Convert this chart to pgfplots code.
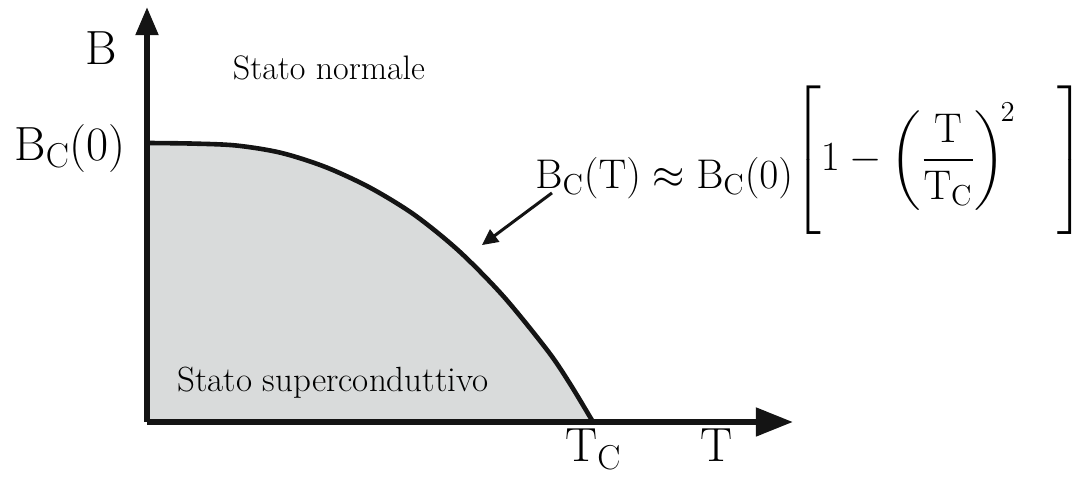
\documentclass[border=0pt]{standalone}
\usepackage{amsmath}
\usepackage{pgfplots}
\pgfplotsset{compat=1.18}
\usetikzlibrary{arrows.meta}
\definecolor{scfill}{HTML}{D9DBDB}
\definecolor{ink}{HTML}{141414}
\pgfplotstableread{
T     B
0     1
0.1   0.998
0.2   0.991
0.3   0.965
0.4   0.914
0.5   0.840
0.6   0.742
0.7   0.612
0.8   0.449
0.9   0.252
0.95  0.133
1     0
}\criticalfield
\begin{document}
\begin{tikzpicture}
\useasboundingbox (-73.5pt,-35pt) rectangle (468.5pt,211pt);
\begin{axis}[
  at={(0,0)}, anchor=origin,
  x=223pt, y=139.5pt,
  xmin=0, xmax=1.448, ymin=0, ymax=1.487,
  axis lines=left,
  axis on top,
  xtick=\empty, ytick=\empty,
  x axis line style={ink, line width=2.6pt, -{Triangle[length=18.5pt,width=14pt]}},
  y axis line style={ink, line width=2.6pt, -{Triangle[length=14pt,width=11pt]}},
  clip=false,
]
% critical field curve B_C(T)
\addplot[draw=none, fill=scfill, smooth] table[x=T, y=B] {\criticalfield} \closedcycle;
\addplot[line width=2.3pt, ink, smooth] table[x=T, y=B] {\criticalfield};
% labels
\node[anchor=base west, inner sep=0pt, font=\fontsize{24}{28}\selectfont] at (axis cs:-0.139,1.280) {B};
\node[anchor=base west, inner sep=0pt, font=\fontsize{24}{28}\selectfont] at (axis cs:-0.298,0.939) {B$_{\mathrm{C}}$(0)};
\node[font=\fontsize{17}{20}\selectfont] at (axis cs:0.408,1.269) {Stato normale};
\node[font=\fontsize{17.5}{20}\selectfont] at (axis cs:0.417,0.140) {Stato superconduttivo};
\node[anchor=base west, inner sep=0pt, font=\fontsize{24}{28}\selectfont] at (axis cs:0.937,-0.143) {T$_{\mathrm{C}}$};
\node[anchor=base west, inner sep=0pt, font=\fontsize{24}{28}\selectfont] at (axis cs:1.240,-0.143) {T};
% approximate law for the critical field
\node[anchor=base west, font=\fontsize{21}{25}\selectfont, inner sep=0pt] at (axis cs:0.870,0.901)
  {\raisebox{-9pt}{$\mathrm{B_C(T)\approx B_C(0)}$}$\left[\vrule height 44pt depth 34pt width 0pt
   1-\left(\dfrac{\mathrm{T}}{\mathrm{T_C}}\right)^{\!2}\hspace{21pt}\right]$};
\draw[ink, line width=1.5pt, -{Triangle[length=8pt,width=7.5pt]}] (axis cs:0.908,0.821) -- (axis cs:0.751,0.634);
\end{axis}
\end{tikzpicture}
\end{document}
